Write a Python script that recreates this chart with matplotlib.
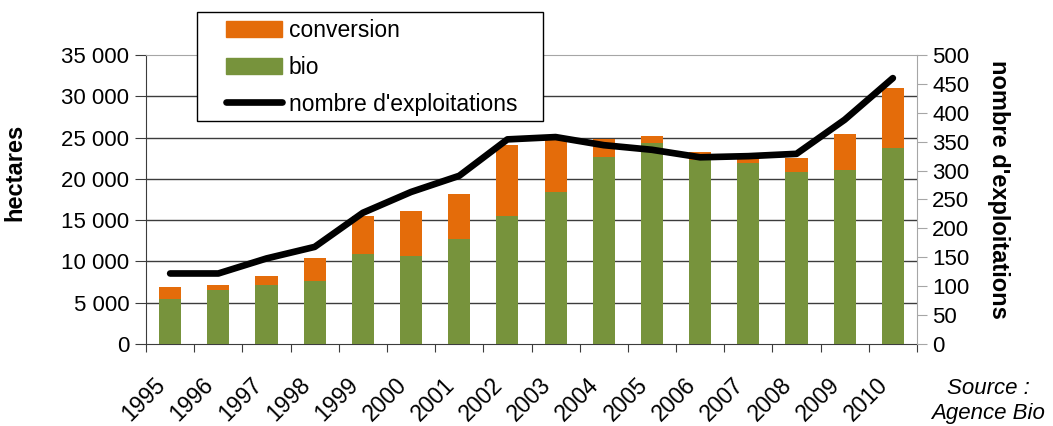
import matplotlib
matplotlib.use('Agg')
import matplotlib.pyplot as plt
import numpy as np
from matplotlib.patches import Patch, Rectangle
from matplotlib.lines import Line2D

plt.rcParams['font.family'] = ['Liberation Sans', 'DejaVu Sans']

# data
years = ['1995', '1996', '1997', '1998', '1999', '2000', '2001', '2002',
         '2003', '2004', '2005', '2006', '2007', '2008', '2009', '2010']
bio = [5450, 6580, 7140, 7630, 10930, 10690, 12710, 15530,
       18440, 22640, 24300, 22280, 21880, 20820, 21100, 23770]
total = [6900, 7140, 8230, 10410, 15500, 16100, 18160, 24090,
         24700, 24820, 25180, 23240, 22880, 22560, 25420, 30990]
nb_exploitations = [122, 122, 148, 168, 227, 263, 291, 354,
                    358, 344, 336, 323, 325, 329, 388, 460]

conversion = [t - b for t, b in zip(total, bio)]

orange = '#E46C0A'
green = '#77933C'
grid_col = '#3c3c3c'
grey = '#a6a6a6'

W, H = 1053, 426
fig = plt.figure(figsize=(W / 100, H / 100), dpi=100)
ax = fig.add_axes([0.1387, 0.1925, 0.7321, 0.6784])

x = np.arange(len(years))
w = 0.46
ax.bar(x, bio, w, color=green, zorder=3)
ax.bar(x, conversion, w, bottom=bio, color=orange, zorder=3)

ax.set_xlim(-0.5, len(years) - 0.5)
ax.set_ylim(0, 35000)
yt = np.arange(0, 35001, 5000)
ax.set_yticks(yt)
ax.set_yticklabels(['0' if v == 0 else f'{v // 1000} 000' for v in yt], fontsize=16)
for v in yt[1:-1]:
    ax.axhline(v, color=grid_col, lw=1, zorder=1)

# ticks between categories, labels at centres
ax.set_xticks(np.arange(-0.5, len(years), 1))
ax.set_xticklabels([])
ax.set_xticks(x, minor=True)
ax.set_xticklabels(years, minor=True, rotation=45, ha='right', va='top', fontsize=16.5)
ax.tick_params(axis='x', which='major', direction='out', length=6, color=grid_col)
ax.tick_params(axis='x', which='minor', length=0, pad=21)
ax.tick_params(axis='y', direction='out', length=8, color=grid_col, pad=4)

for s in ['left', 'bottom']:
    ax.spines[s].set_color(grid_col)
ax.spines['top'].set_color(grey)
ax.spines['right'].set_visible(False)

ax.set_ylabel('hectares', fontsize=17, fontweight='bold')
ax.yaxis.set_label_coords(-0.1556, 0.595)

ax2 = ax.twinx()
ax2.plot(x, nb_exploitations, color='black', lw=4.8, solid_capstyle='round',
         solid_joinstyle='round', zorder=5)
ax2.set_ylim(0, 500)
ax2.set_yticks(np.arange(0, 501, 50))
ax2.tick_params(axis='y', direction='out', length=7, color=grey, labelsize=16, pad=4)
for s in ['left', 'top', 'bottom']:
    ax2.spines[s].set_visible(False)
ax2.spines['right'].set_color(grey)
ax2.set_ylabel("nombre d'exploitations", fontsize=17, fontweight='bold', rotation=270)
ax2.yaxis.set_label_coords(1.121, 0.536)

# legend box drawn by hand, legend entries without frame inside it
fig.patches.append(Rectangle((197 / W, 1 - 121 / H), 346 / W, 109 / H,
                             transform=fig.transFigure, facecolor='white',
                             edgecolor='black', lw=1, zorder=9))
handles = [Patch(color=orange), Patch(color=green),
           Line2D([], [], color='black', lw=4.8, solid_capstyle='round')]
leg = fig.legend(handles, ['conversion', 'bio', "nombre d'exploitations"],
                 loc='upper left', bbox_to_anchor=(226 / W, 1 - 19 / H),
                 fontsize=16.5, frameon=False, handlelength=2.45, handleheight=0.72,
                 labelspacing=0.6, borderpad=0, borderaxespad=0,
                 handletextpad=0.3)
leg.set_zorder(10)

fig.text(988 / W, 1 - 388 / H, 'Source :', fontsize=16, style='italic',
         ha='center', va='center')
fig.text(988 / W, 1 - 413 / H, 'Agence Bio', fontsize=16, style='italic',
         ha='center', va='center')

fig.savefig('out.png', dpi=100)
